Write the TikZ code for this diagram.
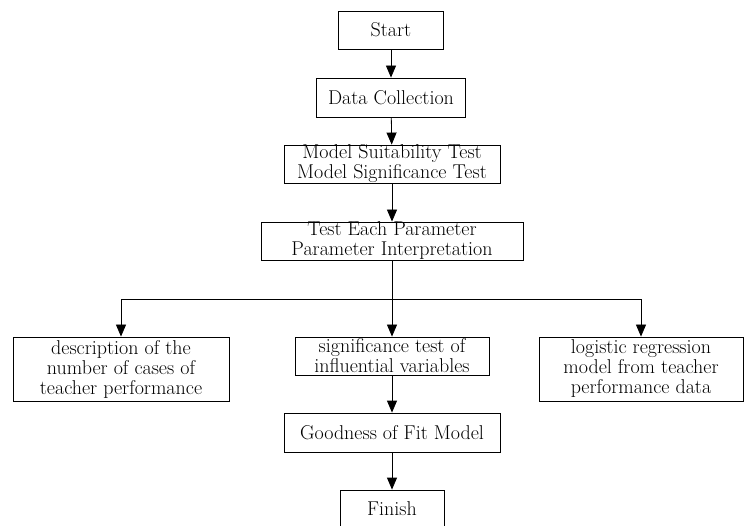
\documentclass[tikz,border=0pt]{standalone}
\usetikzlibrary{arrows.meta}
\tikzset{
  stepbox/.style={draw,line width=0.8pt,inner sep=0pt,align=center,
    font=\fontsize{20}{20}\selectfont},
  flow/.style={-{Triangle[length=12pt,width=10pt]},line width=0.8pt}
}
\begin{document}
\begin{tikzpicture}[x=1pt,y=-1pt]
\useasboundingbox (0,0) rectangle (744,526);
\node[stepbox,minimum width=105pt,minimum height=38pt] (start) at (391,30) {Start};
\node[stepbox,minimum width=149pt,minimum height=39pt] (data) at (391,97.5) {Data Collection};
\node[stepbox,minimum width=216pt,minimum height=38pt] (model) at (392,164) {Model Suitability Test\\Model Significance Test};
\node[stepbox,minimum width=262pt,minimum height=38pt] (param) at (392,241) {Test Each Parameter\\Parameter Interpretation};
\node[stepbox,minimum width=216pt,minimum height=64pt] (desc) at (121,369) {description of the\\number of cases of\\teacher performance};
\node[stepbox,minimum width=194pt,minimum height=38pt] (signif) at (392,356) {significance test of\\influential variables};
\node[stepbox,minimum width=204pt,minimum height=64pt] (logit) at (641,369) {logistic regression\\model from teacher\\performance data};
\node[stepbox,minimum width=216pt,minimum height=39pt] (fit) at (392,432.5) {Goodness of Fit Model};
\node[stepbox,minimum width=104pt,minimum height=38pt] (finish) at (392,509) {Finish};
\coordinate (branch) at (392,299);
\draw[flow] (start) -- (data);
\draw[flow] (data) -- (model);
\draw[flow] (model) -- (param);
\draw[flow] (param) -- (signif);
\draw[flow] (branch) -| (desc);
\draw[flow] (branch) -| (logit);
\draw[flow] (signif) -- (fit);
\draw[flow] (fit) -- (finish);
\end{tikzpicture}
\end{document}
